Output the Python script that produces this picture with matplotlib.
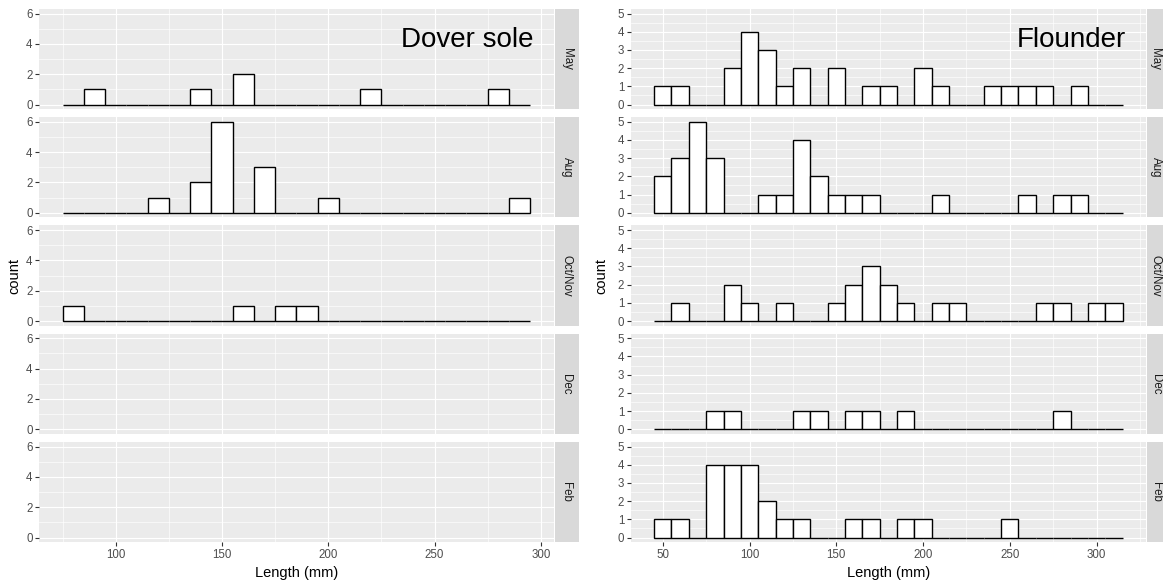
import numpy as np
import matplotlib.pyplot as plt

plt.rcParams['font.family'] = ['Liberation Sans', 'DejaVu Sans']

months = ["May", "Aug", "Oct/Nov", "Dec", "Feb"]

# bin centres (binwidth 10 mm)
dover_centers = [80, 90, 100, 110, 120, 130, 140, 150, 160, 170, 180,
                 190, 200, 210, 220, 230, 240, 250, 260, 270, 280, 290]
flounder_centers = [50, 60, 70, 80, 90, 100, 110, 120, 130, 140, 150, 160, 170,
                    180, 190, 200, 210, 220, 230, 240, 250, 260, 270, 280, 290,
                    300, 310]

# counts per month, None = no fish caught
dover_may = [0, 1, 0, 0, 0, 0, 1, 0, 2, 0, 0, 0, 0, 0, 1, 0, 0, 0, 0, 0, 1, 0]
dover_aug = [0, 0, 0, 0, 1, 0, 2, 6, 0, 3, 0, 0, 1, 0, 0, 0, 0, 0, 0, 0, 0, 1]
dover_oct = [1, 0, 0, 0, 0, 0, 0, 0, 1, 0, 1, 1, 0, 0, 0, 0, 0, 0, 0, 0, 0, 0]
dover_dec = None
dover_feb = None

flo_may = [1, 1, 0, 0, 2, 4, 3, 1, 2, 0, 2, 0, 1, 1, 0, 2, 1, 0, 0, 1, 1, 1, 1, 0, 1, 0, 0]
flo_aug = [2, 3, 5, 3, 0, 0, 1, 1, 4, 2, 1, 1, 1, 0, 0, 0, 1, 0, 0, 0, 0, 1, 0, 1, 1, 0, 0]
flo_oct = [0, 1, 0, 0, 2, 1, 0, 1, 0, 0, 1, 2, 3, 2, 1, 0, 1, 1, 0, 0, 0, 0, 1, 1, 0, 1, 1]
flo_dec = [0, 0, 0, 1, 1, 0, 0, 0, 1, 1, 0, 1, 1, 0, 1, 0, 0, 0, 0, 0, 0, 0, 0, 1, 0, 0, 0]
flo_feb = [1, 1, 0, 4, 4, 4, 2, 1, 1, 0, 0, 1, 1, 0, 1, 1, 0, 0, 0, 0, 1, 0, 0, 0, 0, 0, 0]

dover_x_major = [100, 150, 200, 250, 300]
dover_x_minor = [75, 125, 175, 225, 275]
dover_y_major = [0, 2, 4, 6]
dover_y_minor = [1, 3, 5]
flo_x_major = [50, 100, 150, 200, 250, 300]
flo_x_minor = [75, 125, 175, 225, 275, 325]
flo_y_major = [0, 1, 2, 3, 4, 5]
flo_y_minor = [0.5, 1.5, 2.5, 3.5, 4.5]

W, H = 1163, 586
fig = plt.figure(figsize=(W / 100, H / 100), dpi=100)

BG = "#EBEBEB"
STRIP = "#D9D9D9"
TICKLAB = "#4D4D4D"
TICK = "#333333"

panel_top = 9.0
panel_h = 100.1
gap = 8.15


def px_axes(x0, y0, x1, y1):
    return fig.add_axes([x0 / W, 1 - y1 / H, (x1 - x0) / W, (y1 - y0) / H])


def draw_side(x0, x1, strip_w, centers, counts, xmaj, xmin, ymaj, ymin,
              name, count_x):
    centers = np.array(centers)
    lo = centers[0] - 5
    hi = centers[-1] + 5
    xpad = 0.05 * (hi - lo)
    ymax = max(max(c) for c in counts if c is not None)
    for i, (m, c) in enumerate(zip(months, counts)):
        top = panel_top + i * (panel_h + gap)
        ax = px_axes(x0, top, x1, top + panel_h)
        ax.set_facecolor(BG)
        for s in ax.spines.values():
            s.set_visible(False)
        ax.set_xlim(lo - xpad, hi + xpad)
        ax.set_ylim(-0.05 * ymax, 1.05 * ymax)
        ax.set_xticks(xmaj)
        ax.set_xticks(xmin, minor=True)
        ax.set_yticks(ymaj)
        ax.set_yticks(ymin, minor=True)
        ax.grid(True, which='major', color='white', lw=0.85)
        ax.grid(True, which='minor', color='white', lw=0.45)
        ax.set_axisbelow(True)
        ax.tick_params(which='minor', length=0)
        ax.tick_params(which='major', length=2.75, width=0.8, color=TICK,
                       labelcolor=TICKLAB, labelsize=8.3, pad=2)
        if i < len(months) - 1:
            ax.tick_params(axis='x', which='major', length=0, labelbottom=False)
        if c is not None:
            ax.bar(centers, c, width=10, color='white', edgecolor='black',
                   linewidth=1.0, zorder=3)
        if i == 0:
            ax.text(0.962, 0.623, name, transform=ax.transAxes, ha='right',
                    va='baseline', fontsize=20, color='black', zorder=4)
        # facet strip on the right
        sx = px_axes(x1 + 1, top, x1 + 1 + strip_w, top + panel_h)
        sx.set_facecolor(STRIP)
        sx.set_xticks([])
        sx.set_yticks([])
        for s in sx.spines.values():
            s.set_visible(False)
        sx.text(0.5, 0.5, m, rotation=-90, ha='center', va='center',
                fontsize=8.3, color='#1A1A1A', transform=sx.transAxes)

    bottom = panel_top + 5 * panel_h + 4 * gap
    fig.text((x0 + x1) / 2 / W, 1 - 573 / H, "Length (mm)", ha='center',
             va='center', fontsize=10.5)
    fig.text(count_x / W, 1 - (panel_top + bottom) / 2 / H, "count",
             rotation=90, ha='center', va='center', fontsize=10.5)


draw_side(39.3, 553.5, 24, dover_centers,
          [dover_may, dover_aug, dover_oct, dover_dec, dover_feb],
          dover_x_major, dover_x_minor, dover_y_major, dover_y_minor,
          "Dover sole", 14)
draw_side(630.7, 1146.0, 17, flounder_centers,
          [flo_may, flo_aug, flo_oct, flo_dec, flo_feb],
          flo_x_major, flo_x_minor, flo_y_major, flo_y_minor,
          "Flounder", 601)

fig.savefig("out.png", dpi=100, facecolor='white')
